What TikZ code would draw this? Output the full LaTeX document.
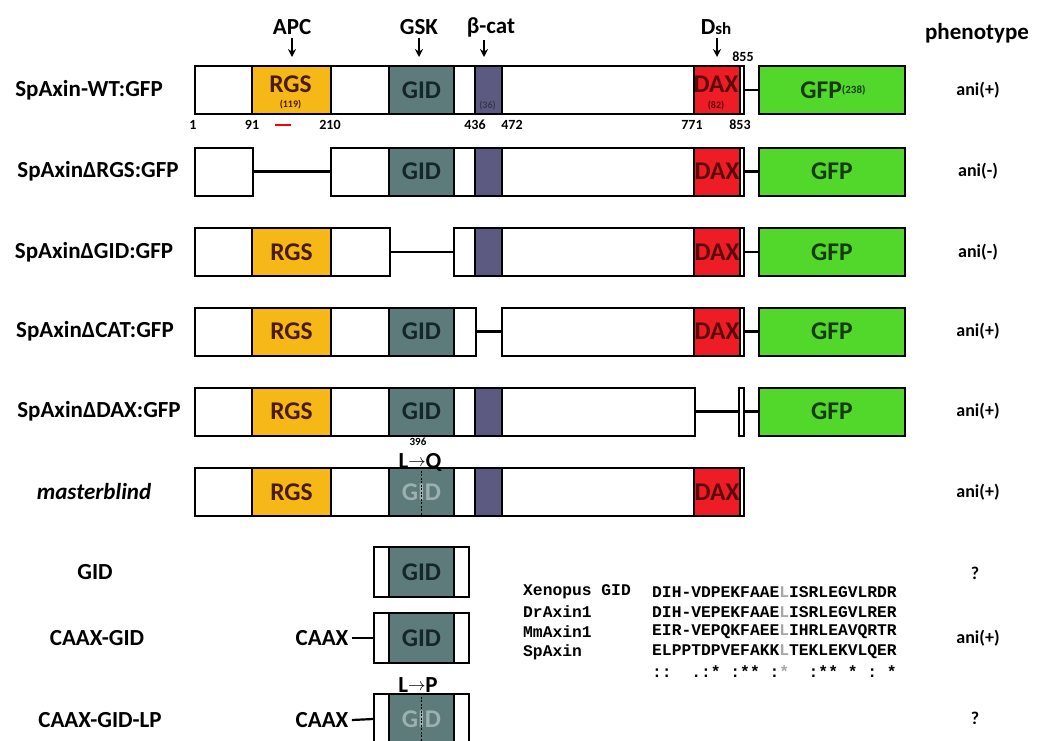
\documentclass[tikz,border=0pt]{standalone}
\usepackage{fontspec}
\setmainfont{Carlito}
\newfontfamily\monof{Liberation Mono}
\usetikzlibrary{arrows.meta}
\definecolor{rgsc}{HTML}{F5B816}
\definecolor{gidc}{HTML}{5E7B7C}
\definecolor{bcatc}{HTML}{5D5A82}
\definecolor{daxc}{HTML}{EE1C25}
\definecolor{gfpc}{HTML}{52D82A}
\definecolor{fadec}{HTML}{9CB0B0}
\definecolor{rgst}{HTML}{4A1A0A}
\definecolor{gidt}{HTML}{15262A}
\definecolor{daxt}{HTML}{5A0A0A}
\definecolor{gfpt}{HTML}{173A0A}
\newcommand\mysp{\phantom{X}}
\newcommand\dom[6]{\node[#1, minimum width=#4pt] (#2) at (#3,#5) {#6};}
\tikzset{
  bx/.style={draw=black, line width=2pt, fill=white, minimum height=48pt, inner sep=0pt, anchor=west,
     font=\fontsize{25.5}{28}\selectfont\bfseries},
  rgs/.style={bx, fill=rgsc, text=rgst},
  gid/.style={bx, fill=gidc, text=gidt},
  gidm/.style={bx, fill=gidc, text=fadec},
  bcat/.style={bx, fill=bcatc},
  dax/.style={bx, fill=daxc, text=daxt},
  gfp/.style={bx, fill=gfpc, text=gfpt},
  lbl/.style={font=\fontsize{23}{26}\selectfont\bfseries},
  mutlbl/.style={font=\fontsize{23}{26}\selectfont\bfseries, inner sep=0pt, text height=15pt, text depth=0pt},
  num/.style={font=\fontsize{14}{16}\selectfont\bfseries},
  tiny/.style={font=\fontsize{10}{12}\selectfont\bfseries},
  phe/.style={font=\fontsize{18}{20}\selectfont\bfseries},
  aln/.style={font=\fontsize{16.3}{20}\selectfont\monof\bfseries, anchor=west, inner sep=0pt},
  lnk/.style={line width=2.2pt},
  pin/.style={line width=1.8pt, -{Stealth[length=8pt,width=8pt]}},
  mut/.style={line width=1.6pt, dash pattern=on 2pt off 1.5pt},
}
\begin{document}
\begin{tikzpicture}[x=1pt,y=-1pt]
\useasboundingbox[fill=white] (0,0) rectangle (1038,740);

% ---------- header ----------
\node[lbl] (apc) at (292,27) {APC};
\node[lbl] (gsk) at (419,27) {GSK};
\node[lbl] (bc) at (491,27) {β-cat};
\node[lbl] (dsh) at (716,27) {D{\fontsize{17}{18}\selectfont sh}};
\node[lbl] (phen) at (977,33) {phenotype};
\coordinate (apcE) at (292,57);
\coordinate (gskE) at (419,57);
\coordinate (bcE) at (484,57);
\coordinate (dshE) at (717,57);
\draw[pin] (apc.south) -- (apcE);
\draw[pin] (gsk.south) -- (gskE);
\draw[pin] (bc.south -| bcE) -- (bcE);
\draw[pin] (dsh.south -| dshE) -- (dshE);

% ---------- row 1: WT ----------
\node[lbl] (l1) at (89,90) {SpAxin-WT:GFP};
\dom{bx}{w1}{194}{549}{90}{}
\dom{rgs}{w1rgs}{251}{79}{90}{}
\dom{gid}{w1gid}{388}{65}{90}{GID}
\dom{bcat}{w1bc}{474}{27}{90}{}
\dom{dax}{w1dax}{693}{46}{90}{}
\dom{gfp}{w1gfp}{758}{146}{90}{}
\draw[lnk] (w1.east) -- (w1gfp.west);
\node[font=\fontsize{25.5}{28}\selectfont\bfseries, text=rgst] (t1rgs) at (290.5,84) {RGS};
\node[tiny, text=rgst] (t1rgsn) at (290.5,105) {(119)};
\node[tiny, text=bcatc!60!black] (t1bcn) at (487.5,106) {(36)};
\node[font=\fontsize{25.5}{28}\selectfont\bfseries, text=daxt] (t1dax) at (716,84) {DAX};
\node[tiny, text=daxt] (t1daxn) at (716,106) {(82)};
\node[font=\fontsize{25.5}{28}\selectfont\bfseries, text=gfpt] (t1gfp) at (833,90) {GFP\raisebox{5pt}{\fontsize{11}{12}\selectfont(238)}};
\node[phe] (p1) at (978,90) {ani(+)};
\node[num] (n1) at (193,125) {1};
\node[num] (n91) at (252,125) {91};
\node[num] (n210) at (330,125) {210};
\node[num] (n436) at (475,125) {436};
\node[num] (n472) at (512,125) {472};
\node[num] (n771) at (692,125) {771};
\node[num] (n853) at (740,125) {853};
\node[num] (n855) at (743,57) {855};
\coordinate (rd1) at (275,125);
\coordinate (rd2) at (291,125);
\draw[red, line width=2pt] (rd1) -- (rd2);

% ---------- row 2: dRGS ----------
\node[lbl] (l2) at (98,171.5) {SpAxinΔRGS:GFP};
\dom{bx}{r2a}{194}{58}{171.5}{}
\dom{bx}{r2b}{330}{413}{171.5}{}
\dom{gid}{r2gid}{388}{65}{171.5}{GID}
\dom{bcat}{r2bc}{474}{27}{171.5}{}
\dom{dax}{r2dax}{693}{46}{171.5}{DAX}
\dom{gfp}{r2gfp}{758}{146}{171.5}{GFP}
\draw[lnk] (r2a.east) -- (r2b.west);
\draw[lnk] (r2b.east) -- (r2gfp.west);
\node[phe] (p2) at (978,171.5) {ani(-)};

% ---------- row 3: dGID ----------
\node[lbl] (l3) at (94,252) {SpAxinΔGID:GFP};
\dom{bx}{r3a}{194}{195}{252}{}
\dom{rgs}{r3rgs}{251}{79}{252}{RGS}
\dom{bx}{r3b}{453}{290}{252}{}
\dom{bcat}{r3bc}{474}{27}{252}{}
\dom{dax}{r3dax}{693}{46}{252}{DAX}
\dom{gfp}{r3gfp}{758}{146}{252}{GFP}
\draw[lnk] (r3a.east) -- (r3b.west);
\draw[lnk] (r3b.east) -- (r3gfp.west);
\node[phe] (p3) at (978,252) {ani(-)};

% ---------- row 4: dCAT ----------
\node[lbl] (l4) at (95,331.5) {SpAxinΔCAT:GFP};
\dom{bx}{r4a}{194}{281}{331.5}{}
\dom{rgs}{r4rgs}{251}{79}{331.5}{RGS}
\dom{gid}{r4gid}{388}{65}{331.5}{GID}
\dom{bx}{r4b}{501}{242}{331.5}{}
\dom{dax}{r4dax}{693}{46}{331.5}{DAX}
\dom{gfp}{r4gfp}{758}{146}{331.5}{GFP}
\draw[lnk] (r4a.east) -- (r4b.west);
\draw[lnk] (r4b.east) -- (r4gfp.west);
\node[phe] (p4) at (978,331.5) {ani(+)};

% ---------- row 5: dDAX ----------
\node[lbl] (l5) at (99,411.5) {SpAxinΔDAX:GFP};
\dom{bx}{r5a}{194}{500}{411.5}{}
\dom{rgs}{r5rgs}{251}{79}{411.5}{RGS}
\dom{gid}{r5gid}{388}{65}{411.5}{GID}
\dom{bcat}{r5bc}{474}{27}{411.5}{}
\dom{bx}{r5t}{738}{5}{411.5}{}
\dom{gfp}{r5gfp}{758}{146}{411.5}{GFP}
\draw[lnk] (r5a.east) -- (r5t.west);
\draw[lnk] (r5t.east) -- (r5gfp.west);
\node[phe] (p5) at (978,411.5) {ani(+)};

% ---------- row 6: masterblind ----------
\node[lbl, font=\fontsize{23}{26}\selectfont\bfseries\itshape] (l6) at (94,492) {masterblind};
\dom{bx}{r6}{194}{549}{492}{}
\dom{rgs}{r6rgs}{251}{79}{492}{RGS}
\dom{gidm}{r6gid}{388}{65}{492}{GID}
\dom{bcat}{r6bc}{474}{27}{492}{}
\dom{dax}{r6dax}{693}{46}{492}{DAX}
\draw[mut] (r6gid.north) -- (r6gid.south);
\node[mutlbl] (lq) at (420,461) {L\raisebox{2pt}{\scalebox{0.7}{$\rightarrow$}}Q};
\node[font=\fontsize{11}{12}\selectfont\bfseries, inner sep=0pt] (lqn) at (418,442) {396};
\node[phe] (p6) at (978,492) {ani(+)};

% ---------- GID ----------
\node[lbl] (l7) at (95,572) {GID};
\node[bx, minimum width=95pt, minimum height=50pt] (g7) at (373,572) {};
\node[gid, minimum width=65pt, minimum height=50pt] (g7gid) at (388,572) {GID};
\node[phe] (p7) at (975,573) {?};

% ---------- CAAX-GID ----------
\node[lbl] (l8) at (97,638) {CAAX-GID};
\node[lbl] (c8) at (322,638) {CAAX};
\node[bx, minimum width=95pt, minimum height=50pt] (g8) at (373,638) {};
\node[gid, minimum width=65pt, minimum height=50pt] (g8gid) at (388,638) {GID};
\draw[lnk] (c8.east) -- (g8.west);
\node[phe] (p8) at (978,638) {ani(+)};

% ---------- CAAX-GID-LP ----------
\node[lbl] (l9) at (100,720) {CAAX-GID-LP};
\node[lbl] (c9) at (322,720) {CAAX};
\node[bx, minimum width=95pt, minimum height=50pt] (g9) at (373,719) {};
\node[gidm, minimum width=65pt, minimum height=50pt] (g9gid) at (388,719) {GID};
\draw[lnk] (c9.east) -- (g9.west);
\draw[mut] (g9gid.north) -- (g9gid.south);
\node[lbl] (lp) at (418,685) {L\raisebox{2pt}{\scalebox{0.7}{$\rightarrow$}}P};
\node[phe] (p9) at (975,718) {?};

% ---------- alignment ----------
\node[aln] (a1n) at (523,592) {Xenopus GID};
\node[aln] (a2n) at (523,612) {DrAxin1};
\node[aln] (a3n) at (523,632) {MmAxin1};
\node[aln] (a4n) at (523,652) {SpAxin};
\node[aln] (a1s) at (652,592) {DIH-VDPEKFAAE\textcolor{black!35}{L}ISRLEGVLRDR};
\node[aln] (a2s) at (652,612) {DIH-VEPEKFAAE\textcolor{black!35}{L}ISRLEGVLRER};
\node[aln] (a3s) at (652,632) {EIR-VEPQKFAEE\textcolor{black!35}{L}IHRLEAVQRTR};
\node[aln] (a4s) at (652,652) {ELPPTDPVEFAKK\textcolor{black!35}{L}TEKLEKVLQER};
\node[aln] (a5s) at (652,672) {::\mysp\mysp.:*\mysp:**\mysp:\textcolor{black!35}{*}\mysp\mysp:**\mysp*\mysp:\mysp*};
\end{tikzpicture}
\end{document}
